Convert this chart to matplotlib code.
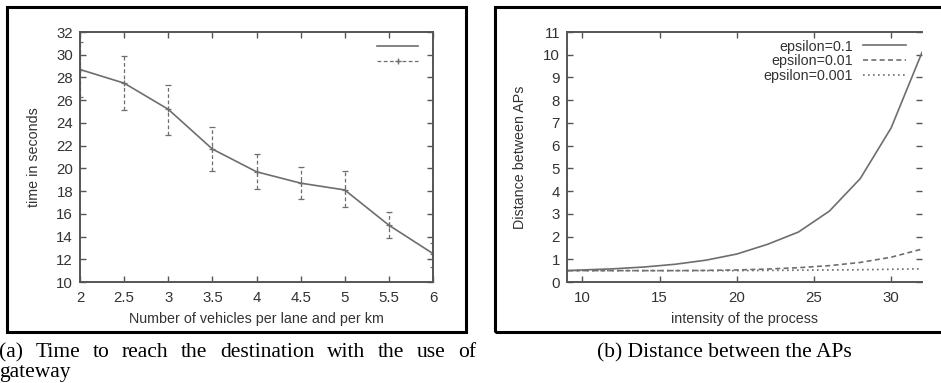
import matplotlib
matplotlib.use("Agg")
import matplotlib.pyplot as plt
from matplotlib.lines import Line2D
from matplotlib.patches import Rectangle

# (a) time to reach destination
vehicles = [2, 2.5, 3, 3.5, 4, 4.5, 5, 5.5, 6]
time_mean = [28.7, 27.5, 25.2, 21.7, 19.7, 18.7, 18.1, 15.0, 12.5]
time_low = [26.3, 25.1, 22.9, 19.8, 18.2, 17.3, 16.6, 13.9, 11.3]
time_high = [31.15, 29.9, 27.3, 23.6, 21.25, 20.1, 19.8, 16.15, 13.4]

# (b) distance between APs
intensity = [9, 10, 12, 14, 16, 18, 20, 22, 24, 26, 28, 30, 32]
dist_eps01 = [0.5, 0.53, 0.58, 0.66, 0.78, 0.96, 1.23, 1.66, 2.2, 3.12, 4.55, 6.78, 10.1]
dist_eps001 = [0.5, 0.5, 0.5, 0.5, 0.5, 0.51, 0.53, 0.57, 0.63, 0.72, 0.86, 1.09, 1.45]
dist_eps0001 = [0.5, 0.5, 0.5, 0.5, 0.5, 0.5, 0.5, 0.51, 0.52, 0.53, 0.54, 0.56, 0.58]
eps_labels = ["epsilon=0.1", "epsilon=0.01", "epsilon=0.001"]

W, H = 941, 383
GRAY = "#6e6e6e"
AX = "#555555"
TXT = "#333333"

plt.rcParams["font.family"] = ["Liberation Sans", "DejaVu Sans"]

fig = plt.figure(figsize=(W / 100, H / 100), dpi=100)


def box(l, t, r, b):
    return [l / W, 1 - b / H, (r - l) / W, (b - t) / H]


def style(ax):
    for s in ax.spines.values():
        s.set_color(AX)
        s.set_linewidth(1.4)
    ax.tick_params(direction="in", length=4, width=1, colors=AX,
                   top=True, right=True, labelsize=10.8, labelcolor=TXT, pad=5)
    ax.tick_params(axis="x", pad=6.5)


# panel frames
fig.patches.append(Rectangle((7 / W, 1 - 332 / H), 459 / W, 325 / H, transform=fig.transFigure,
                             fill=False, ec="black", lw=2.2))
fig.patches.append(Rectangle((495 / W, 1 - 332 / H), 470 / W, 325 / H, transform=fig.transFigure,
                             fill=False, ec="black", lw=2.2, clip_on=False))

# ---- panel (a)
ax1 = fig.add_axes(box(80, 32, 433, 282))
style(ax1)
ax1.plot(vehicles, time_mean, color=GRAY, lw=1.2)
yerr = [[m - lo for m, lo in zip(time_mean, time_low)],
        [hi - m for m, hi in zip(time_mean, time_high)]]
eb = ax1.errorbar(vehicles, time_mean, yerr=yerr, fmt="+", ms=4, mew=0.9, color=GRAY,
                  ecolor=GRAY, elinewidth=0.9, capsize=2.5, capthick=0.9)
eb[2][0].set_linestyle((0, (3, 2)))
ax1.set_xlim(2, 6)
ax1.set_ylim(10, 32)
ax1.set_xticks(vehicles)
ax1.set_xticklabels(["2", "2.5", "3", "3.5", "4", "4.5", "5", "5.5", "6"])
ax1.set_yticks(range(10, 33, 2))
ax1.set_xlabel("Number of vehicles per lane and per km", fontsize=10.3, color=TXT, labelpad=5)
ax1.set_ylabel("time in seconds", fontsize=10.3, color=TXT, labelpad=11)
h1 = Line2D([], [], color=GRAY, lw=1.2)
h2 = Line2D([], [], color=GRAY, lw=0.9, ls=(0, (3, 2)), marker="+", ms=4)
ax1.legend([h1, h2], ["", ""], loc="upper right", bbox_to_anchor=(0.958, 0.962),
           frameon=False, handlelength=3.3, handletextpad=0, labelspacing=0.25,
           borderpad=0, borderaxespad=0, fontsize=9)

# ---- panel (b)
ax2 = fig.add_axes(box(567, 32, 922, 282))
style(ax2)
ax2.spines["right"].set_visible(False)
ax2.plot(intensity, dist_eps01, color=GRAY, lw=1.2, label=eps_labels[0])
ax2.plot(intensity, dist_eps001, color=GRAY, lw=1.2, ls=(0, (3, 2)), label=eps_labels[1])
ax2.plot(intensity, dist_eps0001, color=GRAY, lw=1.2, ls=(0, (1, 2)), label=eps_labels[2])
ax2.set_xlim(9, 32)
ax2.set_ylim(0, 11)
ax2.set_xticks([10, 15, 20, 25, 30])
ax2.set_yticks(range(0, 12))
ax2.set_xlabel("intensity of the process", fontsize=10.3, color=TXT, labelpad=5)
ax2.set_ylabel("Distance between APs", fontsize=10.3, color=TXT, labelpad=11.5)
ax2.legend(loc="upper right", bbox_to_anchor=(0.955, 0.97), frameon=False, markerfirst=False,
           handlelength=3.0, handletextpad=0.7, labelspacing=0.05, borderpad=0,
           borderaxespad=0, fontsize=10.3, labelcolor=TXT)

# ---- captions
cap_kw = dict(family="Liberation Serif", fontsize=15.5, color="black", va="baseline")


def justified(words, x0, x1, y):
    texts = [fig.text(0, 1 - y / H, w, **cap_kw) for w in words]
    r = fig.canvas.get_renderer()
    widths = [t.get_window_extent(r).width for t in texts]
    gap = (x1 - x0 - sum(widths)) / (len(words) - 1)
    x = x0
    for t, w in zip(texts, widths):
        t.set_x(x / W)
        x += w + gap


justified("(a) Time to reach the destination with the use of".split(), -1, 476, 357)
fig.text(-1 / W, 1 - 377 / H, "gateway", **cap_kw)
fig.text(724 / W, 1 - 357 / H, "(b) Distance between the APs", ha="center", **cap_kw)

fig.savefig("out.png", dpi=100)
